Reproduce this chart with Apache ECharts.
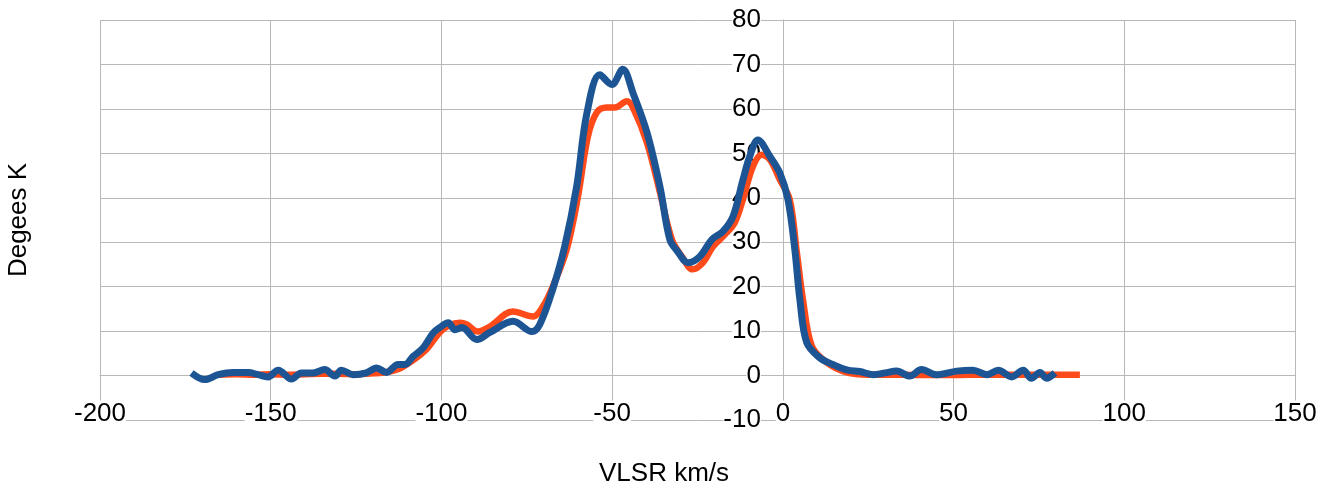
<!DOCTYPE html>
<html>
<head>
<meta charset="utf-8">
<script src="https://cdn.jsdelivr.net/npm/echarts@6/dist/echarts.min.js"></script>
<style>
  html, body { margin: 0; padding: 0; background: #fff; }
  #chart { width: 1328px; height: 486px; }
</style>
</head>
<body>
<div id="chart"></div>
<script>
// Velocity (km/s) and brightness temperature (K) for the two spectra
const orangeVel = [-165.4, -160, -155, -150, -145, -140, -135, -130, -125, -120, -116, -112.2, -108.4, -104.3, -100.5, -97.5, -94.6, -92.6, -89.3, -85.8, -79.1, -73.2, -70.3, -67.4, -63.3, -60, -57.1, -54.5, -51.6, -49.2, -45.7, -43.9, -39.8, -36, -32.5, -29.6, -26.4, -23.4, -20.5, -17, -14.1, -11.7, -8.8, -6.2, -3.8, -0.9, 2, 4.1, 5.9, 8.5, 12.9, 18.7, 25, 35, 45, 55, 65, 75, 87];
const orangeTemp = [0.2, 0.3, 0.2, 0.3, 0.2, 0.3, 0.4, 0.4, 0.3, 0.5, 0.8, 1.6, 3.4, 6.0, 9.7, 11.4, 11.9, 11.5, 9.9, 11.0, 14.4, 13.3, 15.5, 20.0, 28.4, 40.3, 53.8, 59.2, 60.3, 60.3, 61.7, 60.3, 52.4, 41.2, 30.6, 26.8, 23.9, 25.4, 29.0, 31.7, 34.4, 39.6, 47.0, 49.7, 48.6, 44.1, 39.6, 27.7, 17.0, 6.6, 2.9, 0.7, 0.2, 0.2, 0.1, 0.2, 0.2, 0.2, 0.2];

const blueVel = [-173.2, -169.3, -165.4, -161, -156.6, -153.7, -150.8, -147.8, -143.9, -141, -137.6, -134.2, -131.2, -129.3, -125.9, -122, -119, -116.1, -112.7, -110.7, -108.3, -105.4, -102.4, -100.5, -98, -96, -94, -89.6, -85.8, -79, -73.5, -71.2, -67.4, -63.9, -60.4, -57.4, -53.6, -50.1, -46.9, -43.9, -39.8, -36, -33.1, -30.8, -27.8, -24.3, -20.8, -17.6, -14.6, -11.7, -9.7, -7.3, -3.8, -0.9, 1.5, 3.5, 5, 7, 10.8, 14.6, 19, 22.5, 26.5, 30, 33.3, 37.2, 40.6, 45, 50.9, 55.7, 59.7, 63.1, 67, 70.4, 72.8, 75.3, 77.2, 79.7];
const blueTemp = [0.6, -0.9, 0.2, 0.7, 0.7, 0.2, -0.3, 1.2, -0.8, 0.6, 0.6, 1.35, -0.1, 1.2, 0.2, 0.6, 1.7, 0.7, 2.5, 2.5, 4.3, 6.2, 9.6, 10.8, 11.9, 10.3, 10.8, 8.1, 9.7, 12.2, 9.9, 11.5, 19.4, 29.0, 42.5, 59.0, 67.7, 65.5, 68.9, 63.6, 54.7, 42.5, 30.6, 27.9, 25.4, 26.8, 30.6, 32.4, 35.8, 44.0, 49.3, 53.0, 49.3, 45.6, 39.6, 28.4, 17.0, 7.4, 4.0, 2.5, 1.2, 0.9, 0.2, 0.6, 1.0, -0.1, 1.35, 0.2, 1.0, 1.2, 0.2, 1.2, -0.3, 1.2, -0.6, 0.7, -0.6, 0.6];

const xTicks = { min: -200, max: 150, step: 50 };
const yTicks = { min: -10, max: 80, step: 10 };
const xTitle = 'VLSR km/s';
const yTitle = 'Degees K';

const pair = (xs, ys) => xs.map((x, i) => [x, ys[i]]);

const gridGray = '#b8b8b8';
const font = 'Liberation Sans, Arial, Helvetica, sans-serif';

// Plot box in pixels; the axes cross at (0, 0), so each axis is shifted
// inward from its grid edge to the other axis's zero.
const box = { left: 100, right: 33, top: 20, bottom: 66 };
const plotW = 1328 - box.left - box.right;
const plotH = 486 - box.top - box.bottom;
const zeroX = plotW * (0 - xTicks.min) / (xTicks.max - xTicks.min);   // from left edge
const zeroY = plotH * (0 - yTicks.min) / (yTicks.max - yTicks.min);   // from bottom edge

const chart = echarts.init(document.getElementById('chart'), null, { renderer: 'canvas' });
chart.setOption({
  backgroundColor: '#ffffff',
  animation: false,
  grid: { left: box.left, right: box.right, top: box.top, bottom: box.bottom,
          containLabel: false, outerBoundsMode: 'none' },
  // Axis titles, placed at the page edges
  graphic: [
    { type: 'text', left: 'center', top: 461,
      style: { text: xTitle, fontFamily: font, fontSize: 26, fill: '#000' } },
    { type: 'text', x: 6, y: 220, rotation: Math.PI / 2, originX: 0, originY: 0,
      style: { text: yTitle, fontFamily: font, fontSize: 26, fill: '#000',
               align: 'center', verticalAlign: 'top' } }
  ],
  xAxis: {
    type: 'value',
    position: 'bottom',
    offset: -zeroY,
    min: xTicks.min, max: xTicks.max, interval: xTicks.step,
    axisLine: { onZero: false, lineStyle: { color: gridGray, width: 1 } },
    axisTick: { show: true, length: 11, lineStyle: { color: gridGray } },
    axisLabel: { fontFamily: font, fontSize: 26, color: '#000', margin: 25,
                 backgroundColor: '#fff' },
    splitLine: { show: true, lineStyle: { color: gridGray, width: 1 } }
  },
  yAxis: {
    type: 'value',
    position: 'left',
    offset: -zeroX,
    min: yTicks.min, max: yTicks.max, interval: yTicks.step,
    axisLine: { show: true, onZero: false, lineStyle: { color: gridGray, width: 1 } },
    axisTick: { show: true, length: 8, lineStyle: { color: gridGray } },
    axisLabel: { fontFamily: font, fontSize: 26, color: '#000', margin: 22,
                 padding: [4, 0, 0, 0], backgroundColor: '#fff' },
    splitLine: { show: true, lineStyle: { color: gridGray, width: 1 } }
  },
  series: [
    {
      type: 'line',
      data: pair(orangeVel, orangeTemp),
      smooth: 0.35,
      showSymbol: false,
      lineStyle: { color: '#ff4a1a', width: 6.5 },
      itemStyle: { color: '#ff4a1a' },
      z: 3
    },
    {
      type: 'line',
      data: pair(blueVel, blueTemp),
      smooth: 0.35,
      showSymbol: false,
      lineStyle: { color: '#1d5594', width: 7 },
      itemStyle: { color: '#1d5594' },
      z: 4
    }
  ]
});
</script>
</body>
</html>
